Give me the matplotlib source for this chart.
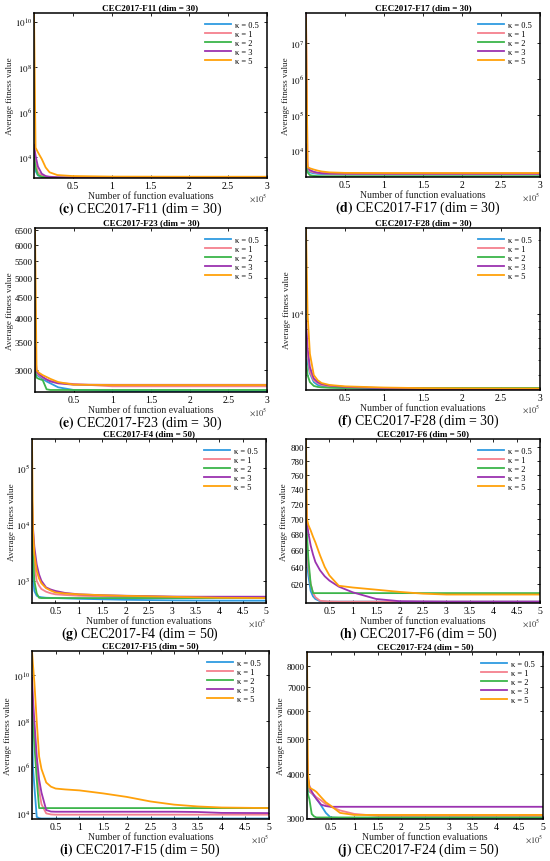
import math
import matplotlib.pyplot as plt
import matplotlib.ticker as mticker

plt.rcParams['font.family'] = ['Liberation Serif', 'DejaVu Serif']
plt.rcParams['mathtext.fontset'] = 'stix'

labels = ['κ = 0.5', 'κ = 1', 'κ = 2', 'κ = 3', 'κ = 5']
colors = ['#2f9be0', '#f4808e', '#3cb54a', '#9b33b0', '#ffa10a']

# evaluation points (dim 30 -> 3e5 evals, dim 50 -> 5e5 evals)
X30 = [0, 2e3, 5e3, 1e4, 1.5e4, 2e4, 3e4, 5e4, 1e5, 1.5e5, 2e5, 3e5]
X50 = [0, 2e3, 5e3, 1e4, 1.5e4, 2e4, 3e4, 4e4, 5e4, 7e4, 1e5, 1.5e5, 2e5, 2.5e5, 3e5, 3.5e5, 4e5, 5e5]

# (c) F11 dim 30
F11_K05 = [8e3, 2.5e3, 1.6e3, 1.35e3, 1.3e3, 1.28e3, 1.26e3, 1.25e3, 1.24e3, 1.24e3, 1.24e3, 1.24e3]
F11_K1 = [1.5e4, 6e3, 2.2e3, 1.6e3, 1.4e3, 1.33e3, 1.3e3, 1.28e3, 1.27e3, 1.26e3, 1.26e3, 1.26e3]
F11_K2 = [1.2e4, 3.5e3, 1.7e3, 1.4e3, 1.32e3, 1.29e3, 1.27e3, 1.26e3, 1.25e3, 1.25e3, 1.24e3, 1.24e3]
F11_K3 = [3.6e4, 1.2e4, 4e3, 1.9e3, 1.5e3, 1.4e3, 1.32e3, 1.28e3, 1.26e3, 1.25e3, 1.25e3, 1.25e3]
F11_K5 = [2.4e10, 2.7e4, 1.7e4, 8.5e3, 3.6e3, 2.2e3, 1.66e3, 1.5e3, 1.42e3, 1.41e3, 1.4e3, 1.4e3]

# (d) F17 dim 30
F17_K05 = [5e3, 2.9e3, 2.5e3, 2.35e3, 2.28e3, 2.25e3, 2.22e3, 2.2e3, 2.2e3, 2.2e3, 2.2e3, 2.2e3]
F17_K1 = [6.8e7, 3.2e3, 2.7e3, 2.5e3, 2.4e3, 2.35e3, 2.3e3, 2.28e3, 2.26e3, 2.25e3, 2.25e3, 2.25e3]
F17_K2 = [4e3, 2.5e3, 2.1e3, 2e3, 1.97e3, 1.96e3, 1.95e3, 1.95e3, 1.95e3, 1.95e3, 1.95e3, 1.95e3]
F17_K3 = [1.5e4, 3.5e3, 2.9e3, 2.6e3, 2.45e3, 2.38e3, 2.33e3, 2.31e3, 2.3e3, 2.3e3, 2.3e3, 2.3e3]
F17_K5 = [4.7e7, 3.5e3, 3.25e3, 3e3, 2.8e3, 2.65e3, 2.5e3, 2.42e3, 2.4e3, 2.4e3, 2.4e3, 2.4e3]

# (e) F23 dim 30
F23_K05 = [3200, 2930, 2900, 2860, 2820, 2790, 2730, 2690, 2675, 2672, 2670, 2670]
F23_K1 = [3300, 2960, 2920, 2880, 2850, 2830, 2800, 2780, 2745, 2745, 2745, 2745]
F23_K2 = [3000, 2880, 2860, 2840, 2700, 2690, 2690, 2690, 2690, 2690, 2690, 2690]
F23_K3 = [3400, 2980, 2940, 2890, 2850, 2820, 2790, 2770, 2768, 2768, 2768, 2768]
F23_K5 = [6590, 3000, 2960, 2920, 2890, 2860, 2810, 2770, 2765, 2765, 2765, 2765]

# (f) F28 dim 30
F28_K05 = [6000, 4800, 4100, 3600, 3450, 3400, 3340, 3290, 3230, 3215, 3210, 3205]
F28_K1 = [8000, 5500, 4200, 3700, 3550, 3450, 3380, 3330, 3280, 3250, 3240, 3230]
F28_K2 = [5000, 4000, 3600, 3400, 3350, 3330, 3310, 3300, 3300, 3300, 3300, 3300]
F28_K3 = [9000, 6000, 4500, 3800, 3600, 3500, 3420, 3350, 3290, 3260, 3250, 3240]
F28_K5 = [3.6e4, 1e4, 5500, 4000, 3700, 3550, 3450, 3380, 3320, 3290, 3280, 3270]

# (g) F4 dim 50
F4_K05 = [5000, 1200, 660, 543, 520, 510, 500, 497, 494, 488, 480, 470, 460, 455, 450, 447, 445, 444]
F4_K1 = [1.5e4, 5000, 2000, 1000, 820, 715, 640, 600, 575, 560, 543, 530, 518, 515, 514, 514, 514, 514]
F4_K2 = [3e4, 3000, 1000, 600, 500, 494, 494, 494, 494, 494, 494, 494, 494, 494, 494, 494, 494, 494]
F4_K3 = [3e4, 9000, 4000, 1950, 1300, 1000, 763, 700, 660, 610, 575, 555, 543, 535, 525, 522, 522, 522]
F4_K5 = [3.2e5, 8000, 3000, 1500, 1100, 900, 740, 670, 620, 595, 575, 555, 540, 530, 520, 510, 500, 494]

# (h) F6 dim 50
F6_K05 = [660, 645, 630, 612, 606, 603, 600.5, 600.2, 600, 600, 600, 600, 600, 600, 600, 600, 600, 600]
F6_K1 = [700, 670, 640, 620, 610, 605, 601, 600.5, 600.2, 600, 600, 600, 600, 600, 600, 600, 600, 600]
F6_K2 = [705, 680, 650, 620, 609.6, 609.6, 609.6, 609.6, 609.6, 609.6, 609.6, 609.6, 609.6, 609.6, 609.6, 609.6, 609.6, 609.6]
F6_K3 = [730, 695, 682, 666, 655, 646, 636, 629, 624, 617, 610.5, 603, 600.5, 600.2, 600, 600, 600, 600]
F6_K5 = [812, 700, 692, 685, 677, 670, 654, 640, 630, 618, 616, 613.5, 611, 609, 608, 608, 608, 608]

# (i) F15 dim 50
F15_K05 = [1e8, 1e6, 1.5e5, 7e3, 6.2e3, 6e3, 6e3, 6e3, 6e3, 6e3, 6e3, 6e3, 6e3, 6e3, 6e3, 6e3, 6e3, 6e3]
F15_K1 = [3e9, 3e8, 3e7, 1e6, 1e5, 2.5e4, 1e4, 9e3, 8.8e3, 8.8e3, 8.8e3, 8.8e3, 8.8e3, 8.8e3, 8.8e3, 8.8e3, 8.8e3, 8.8e3]
F15_K2 = [2e9, 1e8, 1e7, 3e5, 1.7e4, 1.7e4, 1.7e4, 1.7e4, 1.7e4, 1.7e4, 1.7e4, 1.7e4, 1.7e4, 1.7e4, 1.7e4, 1.7e4, 1.7e4, 1.7e4]
F15_K3 = [8e9, 1e9, 1e8, 3e6, 3e5, 8e4, 1.4e4, 1.2e4, 1.18e4, 1.18e4, 1.18e4, 1.18e4, 1.18e4, 1.18e4, 1.18e4, 1.15e4, 1.05e4, 1.03e4]
F15_K5 = [1.15e11, 3e10, 5e9, 1e8, 3e6, 8.5e5, 2.2e5, 1.45e5, 1.2e5, 1.1e5, 1e5, 7.4e4, 5.2e4, 3.3e4, 2.4e4, 2e4, 1.8e4, 1.7e4]

# (j) F24 dim 50
F24_K05 = [3620, 3580, 3560, 3520, 3460, 3400, 3250, 3100, 3010, 3000, 3000, 3000, 3000, 3000, 3000, 3000, 3000, 3000]
F24_K1 = [5000, 3800, 3580, 3520, 3480, 3430, 3360, 3280, 3230, 3150, 3080, 3040, 3040, 3040, 3040, 3040, 3040, 3040]
F24_K2 = [3900, 3500, 3390, 3080, 3030, 3010, 3010, 3010, 3010, 3010, 3010, 3010, 3010, 3010, 3010, 3010, 3010, 3010]
F24_K3 = [4500, 3900, 3690, 3560, 3470, 3390, 3270, 3240, 3225, 3225, 3225, 3225, 3225, 3225, 3225, 3225, 3225, 3225]
F24_K5 = [8780, 4000, 3660, 3620, 3590, 3550, 3430, 3320, 3250, 3100, 3060, 3060, 3060, 3060, 3060, 3060, 3060, 3060]

W, H = 550, 862
fig = plt.figure(figsize=(W / 100, H / 100), dpi=100)


def pix_axes(left, right, top, bottom):
    return fig.add_axes([left / W, 1 - bottom / H, (right - left) / W, (bottom - top) / H])


panels = [
    # box (px), ylabel x (px), title, caption letter, x, series, ylim, yticks, ticklabel style
    ((34, 267, 14, 179), 10, 'CEC2017-F11 (dim = 30)', 'c', X30,
     [F11_K05, F11_K1, F11_K2, F11_K3, F11_K5], (1230, 2.4e10), [1e4, 1e6, 1e8, 1e10], 'dec'),
    ((306, 540, 14, 178), 286, 'CEC2017-F17 (dim = 30)', 'd', X30,
     [F17_K05, F17_K1, F17_K2, F17_K3, F17_K5], (1860, 6.8e7), [1e4, 1e5, 1e6, 1e7], 'dec'),
    ((35, 267, 229, 393), 10, 'CEC2017-F23 (dim = 30)', 'e', X30,
     [F23_K05, F23_K1, F23_K2, F23_K3, F23_K5], (2660, 6590), [3000, 3500, 4000, 4500, 5000, 5500, 6000, 6500], 'num'),
    ((306, 540, 229, 391), 287, 'CEC2017-F28 (dim = 30)', 'f', X30,
     [F28_K05, F28_K1, F28_K2, F28_K3, F28_K5], (3200, 3.6e4), [1e4], 'dec'),
    ((32, 266, 440, 604), 12, 'CEC2017-F4 (dim = 50)', 'g', X50,
     [F4_K05, F4_K1, F4_K2, F4_K3, F4_K5], (404, 3.2e5), [1e3, 1e4, 1e5], 'dec'),
    ((306, 540, 440, 604), 284, 'CEC2017-F6 (dim = 50)', 'h', X50,
     [F6_K05, F6_K1, F6_K2, F6_K3, F6_K5], (598.5, 812), list(range(620, 801, 20)), 'num'),
    ((32, 269, 652, 820), 8, 'CEC2017-F15 (dim = 50)', 'i', X50,
     [F15_K05, F15_K1, F15_K2, F15_K3, F15_K5], (5700, 1.15e11), [1e4, 1e6, 1e8, 1e10], 'dec'),
    ((307, 543, 653, 820), 281, 'CEC2017-F24 (dim = 50)', 'j', X50,
     [F24_K05, F24_K1, F24_K2, F24_K3, F24_K5], (2980, 8780), [3000, 4000, 5000, 6000, 7000, 8000], 'num'),
]

for box, ylab_x, title, letter, x, series, ylim, yticks, style in panels:
    ax = pix_axes(*box)
    for ys, lab, col in zip(series, labels, colors):
        ax.plot(x, ys, color=col, lw=1.3, label=lab)
    ax.set_yscale('log')
    ax.set_xlim(0, x[-1])
    ax.set_ylim(*ylim)
    ax.yaxis.set_major_locator(mticker.FixedLocator(yticks))
    if style == 'dec':
        ax.set_yticklabels([r'$10^{%d}$' % round(math.log10(v)) for v in yticks])
    else:
        ax.set_yticklabels([str(int(v)) for v in yticks])
    if letter == 'f':
        ax.yaxis.set_minor_locator(mticker.LogLocator(base=10, subs=range(2, 10)))
    else:
        ax.yaxis.set_minor_locator(mticker.NullLocator())
    ax.yaxis.set_minor_formatter(mticker.NullFormatter())

    xmax = int(x[-1] / 1e5)
    xt = [k * 0.5e5 for k in range(1, 2 * xmax + 1)]
    ax.set_xticks(xt)
    ax.set_xticklabels(['%g' % (v / 1e5) for v in xt])

    ax.tick_params(direction='in', top=True, right=True, length=2.5, width=0.6,
                   labelsize=7, pad=2, colors='black')
    ax.tick_params(axis='y', labelsize=6.5, pad=1.5)
    ax.tick_params(axis='y', which='minor', direction='in', right=True, length=1.5, width=0.5)
    for sp in ax.spines.values():
        sp.set_linewidth(1.1)

    ax.set_title(title, fontsize=6.5, fontweight='bold', pad=2.5)
    ax.set_xlabel('Number of function evaluations', fontsize=7, labelpad=1, color='#222222')
    fig.text(ylab_x / W, 1 - (box[2] + box[3]) / 2 / H, 'Average fitness value', rotation=90,
             ha='center', va='center', fontsize=6.5, color='#222222')
    ax.text(1.0, -0.115, r'$\times 10^{5}$', transform=ax.transAxes, ha='right', va='center',
            fontsize=6, color='#333333')
    ax.legend(loc='upper right', fontsize=6, frameon=False, handlelength=3.2,
              labelspacing=0.1, borderaxespad=0.6, handletextpad=0.4)

    cx = 140 if box[0] < 100 else 418
    cy = box[3] + 30
    fig.text(cx / W, 1 - cy / H, r'$\mathbf{(%s)}$ %s' % (letter, title),
             ha='center', va='center', fontsize=10)

fig.savefig('out.png', dpi=100)
